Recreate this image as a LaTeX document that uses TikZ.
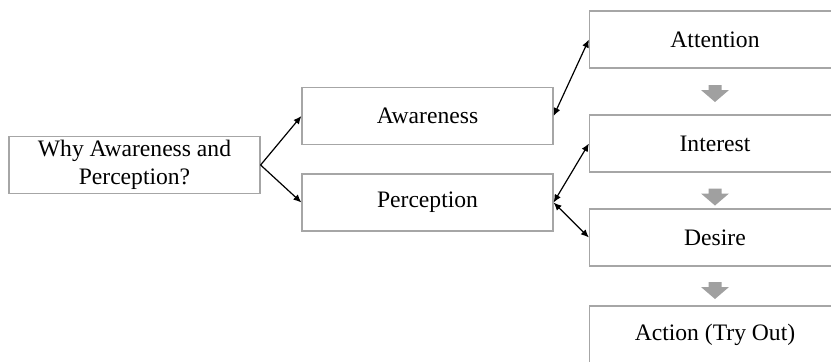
\documentclass[tikz,border=0pt]{standalone}
\usepackage{fontspec}
\setmainfont{Liberation Serif}
\usetikzlibrary{arrows.meta}

\definecolor{rahmen}{HTML}{A6A6A6}
\definecolor{pfeilgrau}{HTML}{A0A0A0}

\tikzset{
    box/.style={draw=rahmen, line width=0.6pt, minimum width=125.5pt, minimum height=28.5pt,
        inner sep=2pt, align=center, font=\fontsize{11.8}{14}\selectfont},
    verbindung/.style={black, line width=0.6pt, {Latex[length=4pt,width=3.5pt]}-{Latex[length=4pt,width=3.5pt]}},
    hin/.style={black, line width=0.6pt, -{Latex[length=4pt,width=3.5pt]}}
}

\begin{document}
\begin{tikzpicture}[x=0.5pt, y=-0.5pt]
    \useasboundingbox (0,0) rectangle (831,361);

    % Linke Seite
    \node[box] (why) at (134.5,165) {Why Awareness and\\Perception?};
    \node[box] (aw) at (427.5,116) {Awareness};
    \node[box] (per) at (427.5,202.5) {Perception};

    % Rechte Spalte
    \node[box] (att) at (715,39.5) {Attention};
    \node[box] (int) at (715,143.5) {Interest};
    \node[box] (des) at (715,237.5) {Desire};
    \node[box] (act) at (715,334.5) {Action (Try Out)};

    % Graue Pfeile nach unten
    \foreach \y in {85,188.5,282} {
        \fill[pfeilgrau] (708.5,\y) -- ++(13,0) -- ++(0,5) -- ++(7.5,0)
            -- (715,\y+17) -- (701,\y+5) -- (708.5,\y+5) -- cycle;
    }

    % Verbindungen
    \draw[hin] (why.east) -- (aw.west);
    \draw[hin] (why.east) -- (per.west);
    \draw[verbindung] (aw.east) -- (att.west);
    \draw[verbindung] (per.east) -- (int.west);
    \draw[verbindung] (per.east) -- (des.west);
\end{tikzpicture}
\end{document}
